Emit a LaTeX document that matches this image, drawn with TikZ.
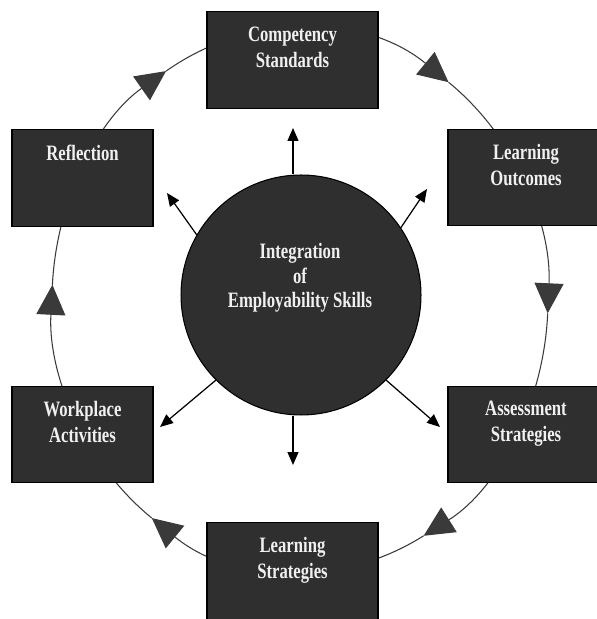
\documentclass[tikz,border=0pt]{standalone}
\usepackage{fontspec}
\newfontfamily\diafont[FakeStretch=0.76]{Liberation Serif}
\usepackage{xcolor}
\usepackage{tikz}
\usetikzlibrary{positioning,arrows.meta}
\definecolor{boxgray}{HTML}{2F2F2F}
\definecolor{ringgray}{HTML}{3A3A3A}

\begin{document}
\begin{tikzpicture}[x=0.02cm, y=0.02cm,
                box/.style = {draw=black, fill=boxgray, line width=0.6pt, inner sep=0pt, outer sep=0pt, minimum height=1.93cm},
                boxtext/.style = {text=white!94!black, align=center, inner sep=0pt, font=\diafont\bfseries\fontsize{12.5}{14.8}\selectfont},
                hub/.style = {circle, draw=black, fill=boxgray, line width=0.6pt, minimum size=4.8cm, inner sep=0pt},
                ring/.style = {draw=ringgray, line width=0.6pt, -{Triangle[length=6mm, width=5.8mm]}},
                spoke/.style = {draw=black, line width=0.7pt, -{Triangle[length=2.6mm, width=2.2mm]}}]
                \useasboundingbox (0,0) rectangle (597,619);
                \clip (0,0) rectangle (597,619);
                % outer cycle, clockwise
                \foreach \a/\b in {233.3/176.8, 176.8/122.7, 122.7/53.2, 53.2/-2.8, -2.8/-60.1, -60.1/-126.7}
                    \draw[ring] (300,319) ++(\a:248 and 272) arc[start angle=\a, end angle=\b, x radius=248, y radius=272];
                % stages
                \node[box, minimum width=3.42cm] (cs) at (292.5,559) {};
                \node[boxtext, below=0.29cm of cs.north] (csText) {Competency\\Standards};
                \node[box, minimum width=3.12cm] (lo) at (526,441.5) {};
                \node[boxtext, below=0.29cm of lo.north] (loText) {Learning\\Outcomes};
                \node[box, minimum width=3.12cm] (as) at (526,184.5) {};
                \node[boxtext, below=0.29cm of as.north] (asText) {Assessment\\Strategies};
                \node[box, minimum width=3.42cm] (ls) at (292.5,48) {};
                \node[boxtext, below=0.29cm of ls.north] (lsText) {Learning\\Strategies};
                \node[box, minimum width=2.82cm] (wa) at (82.5,184.5) {};
                \node[boxtext, below=0.29cm of wa.north] (waText) {Workplace\\Activities};
                \node[box, minimum width=2.82cm] (rf) at (82.5,441) {};
                \node[boxtext, below=0.29cm of rf.north] (rfText) {Reflection};
                % centre
                \node[hub] (hub) at (301,324) {};
                \node[boxtext, font=\diafont\bfseries\fontsize{12.5}{13.8}\selectfont] (hubText) at (300,341) {Integration\\of\\Employability Skills};
                \coordinate (up) at (293,491);
                \coordinate (dn) at (293,154);
                \coordinate (ul) at (167,426);
                \coordinate (ur) at (427,430);
                \coordinate (dl) at (160,192);
                \coordinate (dr) at (440,192);
                \draw[spoke] (hub.north -| up) -- (up);
                \draw[spoke] (hub.south -| dn) -- (dn);
                \draw[spoke] (hub.150) -- (ul);
                \draw[spoke] (hub.34) -- (ur);
                \draw[spoke] (hub.225) -- (dl);
                \draw[spoke] (hub.-45) -- (dr);
            \end{tikzpicture}
\end{document}
